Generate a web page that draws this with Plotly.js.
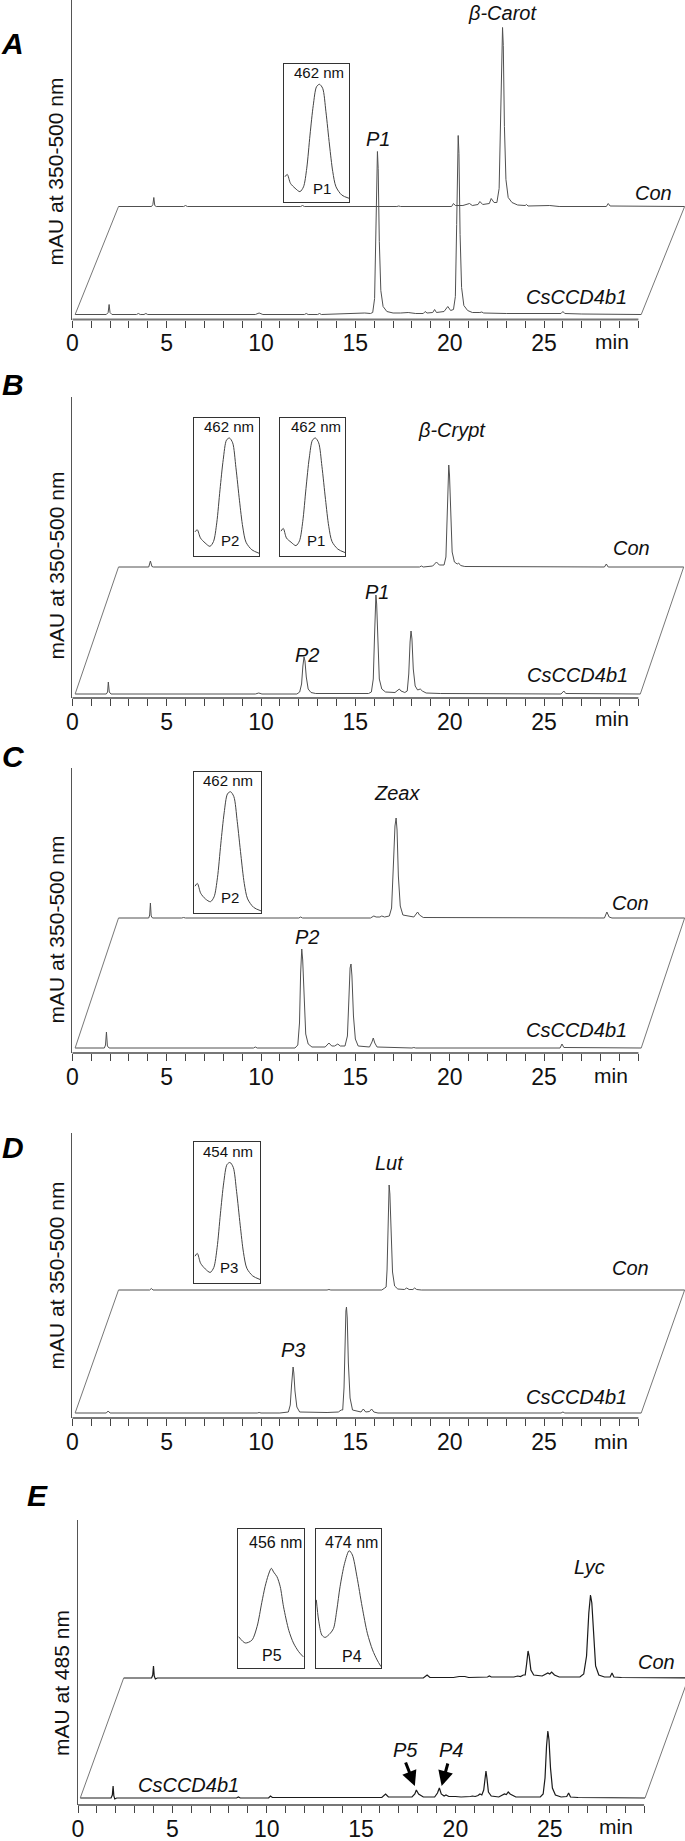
<!DOCTYPE html>
<html>
<head>
<meta charset="utf-8">
<script src="https://cdn.plot.ly/plotly-3.0.1.min.js"></script>
<style>
  html, body { margin: 0; padding: 0; background: #fff; }
  #chart { width: 685px; height: 1841px; }
</style>
</head>
<body>
<div id="chart"></div>
<script>
// ---- retention-time ticks (min)
const X_TICKS = [0, 1, 2, 3, 4, 5, 6, 7, 8, 9, 10, 11, 12, 13, 14, 15, 16, 17, 18, 19, 20,
    21, 22, 23, 24, 25, 26, 27, 28, 29, 30];
const X_TICK_TEXT = ["0", "", "", "", "", "5", "", "", "", "", "10", "", "", "", "", "15", "", "", "", "", "20",
    "", "", "", "", "25", "", "", "", "", ""];

// ---- chromatograms: [time (min), signal (mAU, arbitrary)]
const A_CCD = [[0.15,0],[1.8,0],[1.9,2],[1.95,10],[2.0,2],[2.1,0],[3.4,0],[3.5,1],[3.6,0],[3.8,0],[3.9,1],[4.0,0],
    [9.7,0],[9.9,1.5],[10.1,0],[12.3,0],[12.4,1],[12.5,0],[13.0,0],[13.1,1],[13.2,0],[14.9,1],[15.0,1.5],[15.3,1],
    [15.5,1.5],[15.8,1],[15.92,2],[16.02,16],[16.09,82],[16.14,150],[16.17,163],[16.21,146],[16.27,73],[16.35,24],
    [16.47,8],[16.67,3],[17.0,1.5],[17.4,1.5],[17.8,2],[18.2,1],[18.6,1],[18.7,3],[18.8,1.5],[19.1,2],[19.2,5],
    [19.3,2],[19.7,3],[19.9,8],[20.05,4],[20.2,5],[20.3,18],[20.37,90],[20.42,165],[20.45,179],[20.49,161],
    [20.55,80],[20.63,27],[20.75,9],[20.95,4],[21.2,2],[21.6,2],[21.7,2.5],[21.8,1.5],[23.0,1],[25.9,1],[26.0,3],
    [26.1,1],[27.0,0.5],[30.15,0]];
const A_CON = [[0.15,0],[1.9,0],[1.97,2],[2.02,9],[2.07,1],[2.15,0],[3.6,0],[3.7,1],[3.8,0],[9.8,0],[9.9,1],[10.0,0],
    [14.9,0],[15.0,0.5],[15.1,0],[17.8,0],[17.9,3],[18.0,1],[18.4,1],[18.75,3],[18.9,1],[19.2,2],[19.3,5],[19.45,2],
    [19.8,3],[19.9,8],[20.05,4],[20.2,4],[20.32,18],[20.4,90],[20.46,165],[20.5,179],[20.54,161],[20.6,80],
    [20.68,27],[20.8,9],[21.0,4],[21.3,1.5],[21.7,1],[21.77,2],[21.85,0.5],[23.0,1],[23.5,0],[26.0,0],[26.1,3],
    [26.2,0.5],[30.15,0]];

const B_CCD = [[0.15,0],[1.8,0],[1.87,2],[1.91,12],[1.96,2],[2.05,0],[9.7,0],[9.88,1],[10.05,0],[11.9,0],[12.05,2],
    [12.15,10],[12.22,28],[12.28,37],[12.33,33],[12.4,17],[12.5,5],[12.65,1.5],[12.9,0.5],[15.7,0.5],[15.85,2],
    [15.95,15],[16.02,60],[16.06,92],[16.09,99],[16.13,90],[16.19,48],[16.27,15],[16.4,5],[16.6,2],[17.1,1.5],
    [17.25,4],[17.33,5],[17.42,3],[17.62,1.5],[17.75,3],[17.83,20],[17.9,52],[17.95,63],[18.0,55],[18.07,25],
    [18.17,8],[18.3,4],[18.44,5],[18.55,3],[18.75,1],[19.5,0.5],[25.9,0],[26.05,3],[26.15,0.5],[30.1,0]];
const B_CON = [[0.15,0],[1.75,0],[1.84,6],[1.92,0.5],[2.0,0],[9.8,0],[16.1,0],[16.2,1],[16.3,0],[16.8,1],[17.0,5],
    [17.15,2],[17.4,2],[17.5,10],[17.57,55],[17.62,95],[17.65,102],[17.69,92],[17.75,48],[17.83,15],[17.95,5],
    [18.1,3],[18.17,4],[18.28,1.5],[18.5,0.5],[25.9,0],[26.0,3],[26.1,0],[30.1,0]];

const C_CCD = [[0.15,0],[1.7,0],[1.76,3],[1.81,16],[1.86,2],[1.95,0],[9.6,0],[9.7,1],[9.8,0],[11.8,0],[11.95,3],
    [12.04,25],[12.1,75],[12.16,99],[12.21,88],[12.28,45],[12.37,14],[12.5,4],[12.7,1],[13.4,1],[13.6,5],[13.75,2],
    [13.9,2],[14.07,4],[14.2,2],[14.45,2],[14.58,12],[14.66,50],[14.72,80],[14.77,84],[14.82,72],[14.9,32],
    [15.0,9],[15.15,2],[15.75,1],[15.88,6],[15.95,10],[16.03,5],[16.15,1],[18.0,0],[18.1,0.5],[18.2,0],[25.85,0],
    [25.95,4],[26.05,0.5],[30.15,0]];
const C_CON = [[0.15,0],[1.75,0],[1.8,3],[1.84,15],[1.88,2],[1.95,0],[3.5,0],[3.6,0.5],[3.7,0],[9.7,0],[9.8,1],
    [9.9,0],[13.5,0],[13.68,2],[13.8,1],[14.0,1],[14.1,2],[14.25,1],[14.5,2],[14.62,10],[14.72,55],[14.8,92],
    [14.86,100],[14.91,88],[14.98,42],[15.08,12],[15.22,3],[15.8,1],[15.92,4],[16.0,6],[16.1,3],[16.3,0.5],
    [25.9,0],[26.03,6],[26.15,1],[26.3,0],[30.15,0]];

const D_CCD = [[0.15,0],[1.8,0],[1.9,2],[2.0,0],[9.8,0],[9.9,0.5],[10.0,0],[11.0,0],[11.45,1],[11.55,8],[11.62,28],
    [11.67,42],[11.7,46],[11.74,40],[11.8,22],[11.9,6],[12.05,1],[13.5,0.5],[14.1,1],[14.25,3],[14.33,3],
    [14.4,25],[14.46,80],[14.5,102],[14.53,106],[14.57,95],[14.63,50],[14.72,15],[14.85,3],[15.3,1],[15.42,4],
    [15.55,1],[15.75,1.5],[15.86,4],[15.98,1],[16.2,0],[25.9,0],[26.0,1],[26.1,0],[30.15,0]];
const D_CON = [[0.15,0],[1.8,0],[1.89,1.5],[1.98,0],[11.2,0],[11.3,0.5],[11.4,0],[14.1,0],[14.26,2],[14.33,3],
    [14.38,20],[14.43,70],[14.47,100],[14.49,105],[14.53,96],[14.59,55],[14.67,18],[14.78,4],[14.95,1],
    [15.3,0.5],[15.42,2],[15.55,0.5],[15.75,0.5],[15.84,2],[15.95,0.5],[16.2,0],[26.0,0],[26.05,0.5],[26.1,0],
    [30.15,0]];

const E_CCD = [[0.12,0],[1.75,0],[1.82,3],[1.86,12],[1.9,2],[1.95,-1],[2.05,0],[8.4,0],[8.5,1],[8.6,0],[10.1,0],
    [10.2,2],[10.3,0.5],[16.1,0.5],[16.3,4],[16.45,1],[17.7,1],[17.85,4],[17.93,8],[18.05,4],[18.3,1],[18.9,1],
    [19.05,5],[19.15,10],[19.25,4],[19.4,2],[19.5,3],[19.65,1.5],[20.0,1.5],[20.3,1],[20.8,1.5],[20.9,2],
    [21.05,1.5],[21.2,2.5],[21.3,4],[21.4,3],[21.5,8],[21.57,22],[21.62,27],[21.67,20],[21.75,6],[21.9,2],
    [22.3,1],[22.6,4],[22.7,3.5],[22.8,6],[22.9,4],[23.2,1],[24.5,1],[24.65,4],[24.75,20],[24.83,52],[24.9,67],
    [24.96,58],[25.04,30],[25.14,10],[25.3,3],[25.6,1],[25.9,1.5],[26.0,5],[26.1,1],[26.5,0.5],[30.05,0]];
const E_CON = [[0.12,0],[1.6,0],[1.66,3],[1.7,12],[1.74,2],[1.8,-1],[1.9,0],[6.1,0],[6.2,0.5],[6.3,0],[16.0,0],
    [16.2,3],[16.35,0.5],[17.6,0.5],[17.9,1.5],[18.2,1.5],[18.4,0.5],[19.4,1],[19.5,2],[19.6,1],[20.8,1],[21.0,2],
    [21.15,1.5],[21.3,3],[21.4,3],[21.48,15],[21.55,27],[21.61,22],[21.7,8],[21.85,3],[22.3,2],[22.6,5],[22.7,4],
    [22.8,6],[22.95,3],[23.2,1],[24.3,1],[24.5,4],[24.65,22],[24.77,65],[24.86,83],[24.93,75],[25.02,40],
    [25.13,12],[25.3,3],[25.6,1],[25.9,1],[26.0,5],[26.1,1],[26.5,0.5],[30.05,0]];

// ---- UV/Vis spectra of the products (inset boxes): wavelength (nm) and relative absorbance
const WL_462 = [356, 363, 373, 387, 402, 413, 423, 433, 443, 453, 462, 472, 482, 493, 503, 513, 531, 553];
const WL_454 = [348, 355, 365, 379, 394, 405, 415, 425, 435, 445, 454, 464, 474, 485, 495, 505, 523, 545];
const ABS_A_P1 = [0.183, 0.2, 0.135, 0.1, 0.075, 0.11, 0.245, 0.485, 0.7, 0.835, 0.853, 0.824, 0.654, 0.413, 0.22, 0.11, 0.05, 0.027];
const ABS_B_P2 = [0.175, 0.19, 0.13, 0.095, 0.07, 0.105, 0.24, 0.48, 0.7, 0.84, 0.855, 0.82, 0.64, 0.4, 0.21, 0.1, 0.045, 0.02];
const ABS_B_P1 = [0.18, 0.2, 0.13, 0.1, 0.075, 0.11, 0.25, 0.49, 0.71, 0.84, 0.855, 0.82, 0.65, 0.41, 0.215, 0.105, 0.05, 0.025];
const ABS_C_P2 = [0.19, 0.21, 0.14, 0.1, 0.08, 0.115, 0.25, 0.49, 0.71, 0.845, 0.86, 0.825, 0.65, 0.41, 0.21, 0.1, 0.04, 0.015];
const ABS_D_P3 = [0.19, 0.21, 0.14, 0.1, 0.075, 0.11, 0.25, 0.49, 0.71, 0.84, 0.855, 0.82, 0.65, 0.41, 0.215, 0.105, 0.05, 0.025];
const WL_P5 = [357, 377, 397, 413, 427, 437, 447, 456, 463, 473, 483, 493, 509, 523, 539, 553];
const ABS_E_P5 = [0.225, 0.18, 0.2, 0.3, 0.47, 0.585, 0.67, 0.717, 0.69, 0.657, 0.585, 0.44, 0.27, 0.18, 0.117, 0.08];
const WL_P4 = [373, 380, 390, 400, 416, 426, 436, 446, 460, 474, 484, 498, 514, 530, 546, 560, 572];
const ABS_E_P4 = [0.49, 0.345, 0.237, 0.22, 0.25, 0.285, 0.417, 0.585, 0.753, 0.844, 0.813, 0.657, 0.44, 0.25, 0.13, 0.058, 0.01];

// ---- page geometry (pixels of the 685 x 1841 figure)
const W = 685, H = 1841;
const PX_PER_MIN = 18.87;
const SHIFT_T = 2.3;          // the Con trace is drawn set back along the time axis
const FONT = "Liberation Sans, Arial, sans-serif";

const px = (v) => v / W;
const py = (v) => 1 - v / H;

// x0: pixel of t = 0, top: top of y axis, axis: x axis line, gap: lower baseline above axis, lift: Con baseline
const GEOM = [
    { x0: 72.3, top: 0, axis: 319.5, gap: 5, lift: 108 },
    { x0: 72.3, top: 397, axis: 698, gap: 4, lift: 127 },
    { x0: 72.3, top: 768, axis: 1053, gap: 5, lift: 130 },
    { x0: 72.3, top: 1133, axis: 1418, gap: 5, lift: 123 },
    { x0: 78, top: 1520, axis: 1805, gap: 7, lift: 120 },
];

const PANELS = [
    {
        letter: "A", letterAt: [12, 44], yTitle: "mAU at 350-500 nm", yTitleAt: [55.5, 172], minAt: [612, 342],
        ccd: A_CCD, con: A_CON,
        labels: [["β-Carot", 22.8, 302], ["P1", 16.2, 176], ["Con", 30.8, 122], ["CsCCD4b1", 26.7, 18]],
    },
    {
        letter: "B", letterAt: [13, 384], yTitle: "mAU at 350-500 nm", yTitleAt: [55.5, 566], minAt: [612, 719],
        ccd: B_CCD, con: B_CON,
        labels: [["β-Crypt", 20.1, 264], ["P1", 16.16, 102], ["P2", 12.44, 39], ["Con", 29.64, 146], ["CsCCD4b1", 26.75, 19]],
    },
    {
        letter: "C", letterAt: [13, 757], yTitle: "mAU at 350-500 nm", yTitleAt: [55.5, 930], minAt: [611, 1075],
        ccd: C_CCD, con: C_CON,
        labels: [["Zeax", 17.2, 255], ["P2", 12.44, 111], ["Con", 29.6, 145], ["CsCCD4b1", 26.7, 18]],
    },
    {
        letter: "D", letterAt: [13, 1147], yTitle: "mAU at 350-500 nm", yTitleAt: [55.5, 1276], minAt: [611, 1441],
        ccd: D_CCD, con: D_CON,
        labels: [["Lut", 16.8, 250], ["P3", 11.7, 63], ["Con", 29.6, 145], ["CsCCD4b1", 26.7, 16]],
    },
    {
        letter: "E", letterAt: [37, 1495], yTitle: "mAU at 485 nm", yTitleAt: [61, 1683], minAt: [616, 1826],
        ccd: E_CCD, con: E_CON, dark: true,
        labels: [["Lyc", 27.1, 231], ["Con", 30.66, 136], ["CsCCD4b1", 5.86, 13], ["P5", 17.33, 48], ["P4", 19.75, 48]],
        arrows: [[17.33, 37, 17.85, 12], [19.62, 36, 19.27, 12]],
    },
];

// inset spectra: box = [left, right, top, bottom] in pixels
const INSETS = [
    { box: [284, 349, 64, 202], wl: WL_462, abs: ABS_A_P1, range: [353, 553], nm: "462 nm", tag: "P1", nmAt: [0.54, 0.935], tagAt: [0.585, 0.1], size: 15 },
    { box: [194, 259, 418, 556], wl: WL_462, abs: ABS_B_P2, range: [353, 553], nm: "462 nm", tag: "P2", nmAt: [0.54, 0.937], tagAt: [0.55, 0.11], size: 15 },
    { box: [280, 345, 418, 556], wl: WL_462, abs: ABS_B_P1, range: [353, 553], nm: "462 nm", tag: "P1", nmAt: [0.55, 0.937], tagAt: [0.56, 0.11], size: 15 },
    { box: [194, 261, 772, 913], wl: WL_462, abs: ABS_C_P2, range: [353, 553], nm: "462 nm", tag: "P2", nmAt: [0.51, 0.94], tagAt: [0.54, 0.11], size: 15 },
    { box: [194, 260, 1142, 1283], wl: WL_454, abs: ABS_D_P3, range: [345, 545], nm: "454 nm", tag: "P3", nmAt: [0.51, 0.93], tagAt: [0.53, 0.11], size: 15 },
    { box: [238, 304, 1529, 1668], wl: WL_P5, abs: ABS_E_P5, range: [355, 555], nm: "456 nm", tag: "P5", nmAt: [0.575, 0.9], tagAt: [0.51, 0.09], size: 16 },
    { box: [316, 381, 1529, 1668], wl: WL_P4, abs: ABS_E_P4, range: [372, 572], nm: "474 nm", tag: "P4", nmAt: [0.54, 0.9], tagAt: [0.55, 0.08], size: 16 },
];

const traces = [];
const layout = {
    width: W, height: H,
    margin: { l: 0, r: 0, t: 0, b: 0 },
    paper_bgcolor: "#fff", plot_bgcolor: "rgba(0,0,0,0)",
    showlegend: false,
    font: { family: FONT, color: "#111" },
    shapes: [], annotations: [],
};

const suffix = (n) => (n === 1 ? "" : String(n));

PANELS.forEach((p, i) => {
    const n = i + 1, s = suffix(n);
    const g = GEOM[i];
    const xa = "x" + s, ya = "y" + s;
    const lineColor = p.dark ? "#1a1a1a" : "#505050";
    const lineWidth = p.dark ? 1.2 : 1;

    layout["xaxis" + s] = {
        domain: [px(g.x0), 1], range: [0, (W - g.x0) / PX_PER_MIN], anchor: ya,
        showline: false, showgrid: false, zeroline: false, fixedrange: true,
        tickmode: "array", tickvals: X_TICKS, ticktext: X_TICK_TEXT,
        ticks: "outside", ticklen: 7, tickwidth: 1, tickcolor: "#444",
        ticklabelstandoff: -4, tickfont: { family: FONT, size: 23, color: "#111" },
    };
    layout["yaxis" + s] = {
        domain: [py(g.axis), py(g.top)], range: [-g.gap, g.axis - g.top - g.gap], anchor: xa,
        showline: true, linecolor: "#555", linewidth: 1.5,
        showgrid: false, zeroline: false, showticklabels: false, ticks: "", fixedrange: true,
    };

    // x axis line only spans 0 - 30 min
    layout.shapes.push({
        type: "line", xref: xa, yref: ya + " domain", x0: X_TICKS[0], x1: X_TICKS[X_TICKS.length - 1], y0: 0, y1: 0,
        line: { color: "#777", width: 2.2 },
    });

    // lower chromatogram (CsCCD4b1)
    traces.push({
        x: p.ccd.map((d) => d[0]), y: p.ccd.map((d) => d[1]),
        xaxis: xa, yaxis: ya, type: "scatter", mode: "lines",
        line: { color: lineColor, width: lineWidth }, hoverinfo: "skip",
    });
    // upper chromatogram (Con), set back in time and lifted
    traces.push({
        x: p.con.map((d) => d[0] + SHIFT_T), y: p.con.map((d) => d[1] + g.lift),
        xaxis: xa, yaxis: ya, type: "scatter", mode: "lines",
        line: { color: lineColor, width: lineWidth }, hoverinfo: "skip",
    });
    // side edges of the stacked-plot frame
    const first = p.ccd[0], last = p.ccd[p.ccd.length - 1];
    traces.push({
        x: [first[0], first[0] + SHIFT_T, null, last[0], last[0] + SHIFT_T],
        y: [0, g.lift, null, 0, g.lift],
        xaxis: xa, yaxis: ya, type: "scatter", mode: "lines",
        line: { color: "#777", width: 1 }, hoverinfo: "skip",
    });

    p.labels.forEach(([txt, x, y]) => {
        layout.annotations.push({
            xref: xa, yref: ya, x, y, text: "<i>" + txt + "</i>", showarrow: false,
            xanchor: "center", yanchor: "middle", font: { family: FONT, size: 20, color: "#111" },
        });
    });
    (p.arrows || []).forEach(([tx, ty, hx, hy]) => {
        layout.annotations.push({
            xref: xa, yref: ya, x: hx, y: hy, axref: xa, ayref: ya, ax: tx, ay: ty,
            text: "", showarrow: true, arrowhead: 2, arrowsize: 1, arrowwidth: 3, arrowcolor: "#000",
        });
    });

    layout.annotations.push({
        xref: "paper", yref: "paper", x: px(p.minAt[0]), y: py(p.minAt[1]), text: "min", showarrow: false,
        xanchor: "center", yanchor: "middle", font: { family: FONT, size: 21, color: "#111" },
    });
    layout.annotations.push({
        xref: "paper", yref: "paper", x: px(p.letterAt[0]), y: py(p.letterAt[1]),
        text: "<b><i>" + p.letter + "</i></b>", showarrow: false, xanchor: "center", yanchor: "middle",
        font: { family: FONT, size: 30, color: "#000" },
    });
    layout.annotations.push({
        xref: "paper", yref: "paper", x: px(p.yTitleAt[0]), y: py(p.yTitleAt[1]),
        text: p.yTitle, textangle: -90, showarrow: false, xanchor: "center", yanchor: "middle",
        font: { family: FONT, size: 21, color: "#111" },
    });
});

INSETS.forEach((b, k) => {
    const n = PANELS.length + k + 1, s = suffix(n);
    const xa = "x" + s, ya = "y" + s;
    const boxAxis = {
        showline: true, mirror: true, linecolor: "#333", linewidth: 1,
        showgrid: false, zeroline: false, showticklabels: false, ticks: "", fixedrange: true,
    };
    layout["xaxis" + s] = { ...boxAxis, domain: [px(b.box[0]), px(b.box[1])], range: b.range, anchor: ya };
    layout["yaxis" + s] = { ...boxAxis, domain: [py(b.box[3]), py(b.box[2])], range: [0, 1], anchor: xa };
    traces.push({
        x: b.wl, y: b.abs, xaxis: xa, yaxis: ya, type: "scatter", mode: "lines",
        line: { color: "#444", width: 1, shape: "spline", smoothing: 0.8 }, hoverinfo: "skip",
    });
    layout.annotations.push({
        xref: xa + " domain", yref: ya + " domain", x: b.nmAt[0], y: b.nmAt[1], text: b.nm,
        showarrow: false, xanchor: "center", yanchor: "middle", font: { family: FONT, size: b.size, color: "#111" },
    });
    layout.annotations.push({
        xref: xa + " domain", yref: ya + " domain", x: b.tagAt[0], y: b.tagAt[1], text: b.tag,
        showarrow: false, xanchor: "center", yanchor: "middle", font: { family: FONT, size: b.size, color: "#111" },
    });
});

Plotly.newPlot("chart", traces, layout, { displayModeBar: false, staticPlot: true });
</script>
</body>
</html>
